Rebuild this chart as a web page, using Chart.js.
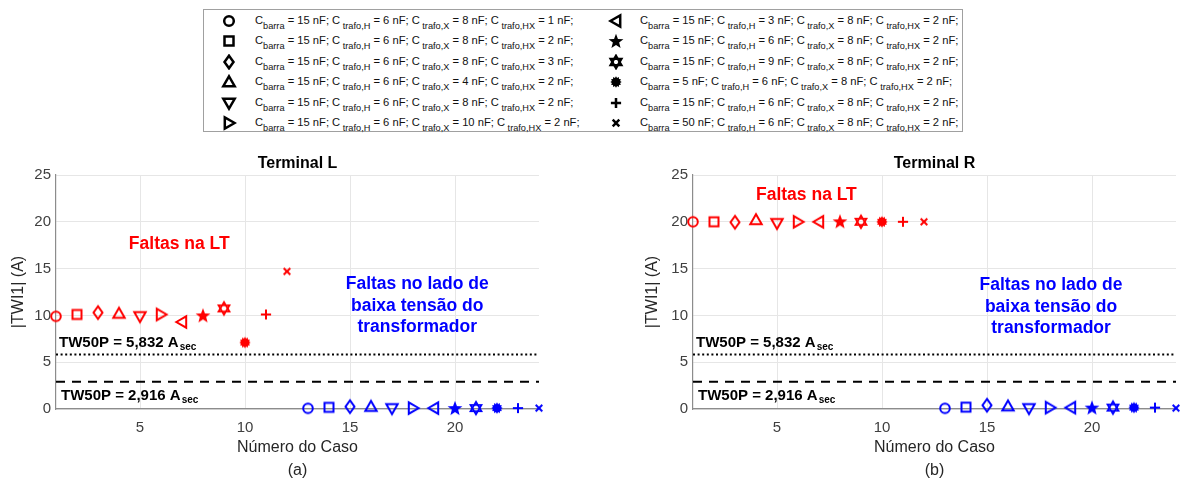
<!DOCTYPE html>
<html>
<head>
<meta charset="utf-8">
<script src="https://cdn.jsdelivr.net/npm/chart.js@4.4.0/dist/chart.umd.min.js"></script>
<style>
  body { margin: 0; background: #fff; width: 1181px; height: 481px; position: relative; overflow: hidden; font-family: "Liberation Sans", Arial, sans-serif; }
  #legenda { position: absolute; left: 203px; top: 9px; width: 758px; height: 121px; border: 1px solid #a0a0a0; background: #fff; }
  .item { position: absolute; height: 20px; font-size: 11.2px; color: #111; white-space: nowrap; line-height: 20px; }
  .item canvas { position: absolute; left: 0; top: 2px; }
  .item span.txt { position: absolute; top: -1px; }
  .item sub { font-size: 9.2px; vertical-align: -5px; line-height: 0; }
  #wrapL { position: absolute; left: 0; top: 150px; }
  #wrapR { position: absolute; left: 620px; top: 150px; }
</style>
</head>
<body>
<div id="legenda"></div>
<div id="wrapL"><canvas id="chartL" width="545" height="331"></canvas></div>
<div id="wrapR"><canvas id="chartR" width="561" height="331"></canvas></div>
<script>
// casos simulados
const casosLT = [1, 2, 3, 4, 5, 6, 7, 8, 9, 10, 11, 12];
const casosBT = [13, 14, 15, 16, 17, 18, 19, 20, 21, 22, 23, 24];

// um simbolo por configuracao de capacitancias
const simbolos = ['circle', 'square', 'diamond', 'triUp', 'triDown', 'triRight',
                  'triLeft', 'star', 'hexagram', 'sun', 'plus', 'cross'];

// capacitancias (nF) da legenda
const cBarra   = [15, 15, 15, 15, 15, 15, 15, 15, 15, 5, 15, 50];
const cTrafoH  = [6, 6, 6, 6, 6, 6, 3, 6, 9, 6, 6, 6];
const cTrafoX  = [8, 8, 8, 4, 8, 10, 8, 8, 8, 8, 8, 8];
const cTrafoHX = [1, 2, 3, 2, 2, 2, 2, 2, 2, 2, 2, 2];

// |TWI1| (A) - terminal L
const twiL_LT = [9.9, 10.1, 10.3, 10.2, 9.9, 10.1, 9.3, 10.0, 10.75, 7.1, 10.1, 14.7];
const twiL_BT = [0.07, 0.18, 0.25, 0.25, 0.07, 0.1, 0.1, 0.1, 0.1, 0.1, 0.1, 0.1];

// |TWI1| (A) - terminal R
const twiR_LT = [20.0, 20.0, 19.95, 20.2, 19.85, 20.0, 20.0, 20.05, 20.0, 20.0, 20.0, 20.0];
const twiR_BT = [0.07, 0.2, 0.4, 0.3, 0.07, 0.15, 0.15, 0.15, 0.15, 0.15, 0.15, 0.1];

// ajustes TW50P (A sec)
const tw50pAlto = 5.832;
const tw50pBaixo = 2.916;

const yTicks = [0, 5, 10, 15, 20, 25];
const xTicks = [5, 10, 15, 20];

const vermelho = '#ff0000';
const azul = '#0000ff';
const FONTE = '"Liberation Sans", Arial, sans-serif';

// desenha um marcador no contexto
function drawMarker(ctx, shape, cx, cy, r, color, lw) {
    ctx.save();
    ctx.strokeStyle = color;
    ctx.fillStyle = color;
    ctx.lineWidth = lw;
    ctx.lineJoin = 'miter';
    const poly = (pts, fill) => {
        ctx.beginPath();
        pts.forEach((p, i) => i ? ctx.lineTo(cx + p[0], cy + p[1]) : ctx.moveTo(cx + p[0], cy + p[1]));
        ctx.closePath();
        fill ? ctx.fill() : ctx.stroke();
    };
    if (shape === 'circle') {
        ctx.beginPath(); ctx.arc(cx, cy, r * 0.8, 0, Math.PI * 2); ctx.stroke();
    } else if (shape === 'square') {
        ctx.strokeRect(cx - r * 0.75, cy - r * 0.75, r * 1.5, r * 1.5);
    } else if (shape === 'diamond') {
        poly([[0, -r * 1.05], [r * 0.75, 0], [0, r * 1.05], [-r * 0.75, 0]]);
    } else if (shape === 'triUp') {
        poly([[0, -r * 0.95], [r * 0.95, r * 0.7], [-r * 0.95, r * 0.7]]);
    } else if (shape === 'triDown') {
        poly([[0, r * 0.95], [r * 0.95, -r * 0.7], [-r * 0.95, -r * 0.7]]);
    } else if (shape === 'triRight') {
        poly([[r * 0.95, 0], [-r * 0.7, -r * 0.95], [-r * 0.7, r * 0.95]]);
    } else if (shape === 'triLeft') {
        poly([[-r * 0.95, 0], [r * 0.7, -r * 0.95], [r * 0.7, r * 0.95]]);
    } else if (shape === 'star') {
        const pts = [];
        for (let i = 0; i < 10; i++) {
            const a = -Math.PI / 2 + i * Math.PI / 5;
            const rr = i % 2 ? r * 0.55 : r * 1.3;
            pts.push([Math.cos(a) * rr, Math.sin(a) * rr + r * 0.1]);
        }
        poly(pts, true);
    } else if (shape === 'hexagram') {
        const t1 = [], t2 = [];
        for (let i = 0; i < 3; i++) {
            const a = -Math.PI / 2 + i * 2 * Math.PI / 3;
            t1.push([Math.cos(a) * r * 1.05, Math.sin(a) * r * 1.05]);
            t2.push([Math.cos(a + Math.PI) * r * 1.05, Math.sin(a + Math.PI) * r * 1.05]);
        }
        ctx.lineWidth = lw * 0.9;
        poly(t1); poly(t2);
    } else if (shape === 'sun') {
        const pts = [];
        for (let i = 0; i < 24; i++) {
            const a = i * Math.PI / 12;
            const rr = i % 2 ? r * 0.7 : r * 0.95;
            pts.push([Math.cos(a) * rr, Math.sin(a) * rr]);
        }
        poly(pts, true);
    } else if (shape === 'plus') {
        ctx.beginPath();
        ctx.moveTo(cx - r * 0.85, cy); ctx.lineTo(cx + r * 0.85, cy);
        ctx.moveTo(cx, cy - r * 0.85); ctx.lineTo(cx, cy + r * 0.85);
        ctx.stroke();
    } else if (shape === 'cross') {
        ctx.beginPath();
        ctx.moveTo(cx - r * 0.55, cy - r * 0.55); ctx.lineTo(cx + r * 0.55, cy + r * 0.55);
        ctx.moveTo(cx + r * 0.55, cy - r * 0.55); ctx.lineTo(cx - r * 0.55, cy + r * 0.55);
        ctx.stroke();
    }
    ctx.restore();
}

function makeMarker(shape, color, size, r, lw) {
    const c = document.createElement('canvas');
    c.width = size; c.height = size;
    drawMarker(c.getContext('2d'), shape, size / 2, size / 2, r, color, lw);
    return c;
}

// legenda em HTML
const legenda = document.getElementById('legenda');
simbolos.forEach((s, i) => {
    const col = i < 6 ? 0 : 1;
    const row = i % 6;
    const div = document.createElement('div');
    div.className = 'item';
    div.style.left = (col === 0 ? 17 : 404) + 'px';
    div.style.top = (1 + row * 20.4) + 'px';
    div.appendChild(makeMarker(s, '#000', 16, 6, 2.5));
    const txt = document.createElement('span');
    txt.className = 'txt';
    txt.style.left = (col === 0 ? 34 : 32) + 'px';
    txt.innerHTML = 'C<sub>barra</sub> = ' + cBarra[i] + ' nF; C<sub> trafo,H</sub> = ' + cTrafoH[i] +
        ' nF; C<sub> trafo,X</sub> = ' + cTrafoX[i] + ' nF; C<sub> trafo,HX</sub> = ' + cTrafoHX[i] + ' nF;';
    div.appendChild(txt);
    legenda.appendChild(div);
});

// textos desenhados sobre o grafico
const notasPlugin = {
    id: 'notas',
    afterDatasetsDraw(chart, args, opts) {
        const ctx = chart.ctx;
        const xs = chart.scales.x, ys = chart.scales.y;
        const area = chart.chartArea;
        const cxa = (area.left + area.right) / 2;
        ctx.save();
        ctx.textBaseline = 'middle';
        ctx.textAlign = 'center';
        // titulo
        ctx.fillStyle = '#000';
        ctx.font = 'bold 16px ' + FONTE;
        ctx.fillText(opts.titulo, cxa, area.top - 11);
        // eixo x
        ctx.fillStyle = '#262626';
        ctx.font = '16px ' + FONTE;
        ctx.fillText('Número do Caso', cxa, area.bottom + 39);
        ctx.fillText(opts.letra, cxa, area.bottom + 62);
        // eixo y
        ctx.save();
        ctx.translate(opts.yTituloX, (area.top + area.bottom) / 2);
        ctx.rotate(-Math.PI / 2);
        ctx.fillText('|TWI1| (A)', 0, 0);
        ctx.restore();
        // blocos de texto
        opts.textos.forEach(t => {
            ctx.fillStyle = t.cor;
            ctx.font = 'bold 17.5px ' + FONTE;
            t.linhas.forEach((l, k) => {
                ctx.fillText(l, xs.getPixelForValue(t.x), ys.getPixelForValue(t.y) + k * 21.5);
            });
        });
        // rotulos TW50P
        ctx.textAlign = 'left';
        ctx.fillStyle = '#000';
        opts.rotulos.forEach(r => {
            const px = area.left + r.dx;
            const py = ys.getPixelForValue(r.valor) + r.dy;
            ctx.font = 'bold 15px ' + FONTE;
            const base = 'TW50P = ' + r.valor.toFixed(3).replace('.', ',') + ' A';
            ctx.fillText(base, px, py);
            const w = ctx.measureText(base).width;
            ctx.font = 'bold 10px ' + FONTE;
            ctx.fillText('sec', px + w + 1, py + 5);
        });
        ctx.restore();
    }
};

function buildChart(id, valsLT, valsBT, cfg) {
    const ctx = document.getElementById(id).getContext('2d');
    const x0 = casosLT[0], x1 = casosBT[casosBT.length - 1];
    return new Chart(ctx, {
        type: 'scatter',
        data: {
            datasets: [
                {
                    data: casosLT.map((c, i) => ({ x: c, y: valsLT[i] })),
                    pointStyle: simbolos.map(s => makeMarker(s, vermelho, 20, 6, 2)),
                    clip: false
                },
                {
                    data: casosBT.map((c, i) => ({ x: c, y: valsBT[i] })),
                    pointStyle: simbolos.map(s => makeMarker(s, azul, 20, 6, 2)),
                    clip: false
                },
                {
                    data: [{ x: x0, y: tw50pAlto }, { x: x1, y: tw50pAlto }],
                    showLine: true, borderColor: '#000', borderWidth: 2,
                    borderDash: [2, 2.6], pointRadius: 0
                },
                {
                    data: [{ x: x0, y: tw50pBaixo }, { x: x1, y: tw50pBaixo }],
                    showLine: true, borderColor: '#000', borderWidth: 2,
                    borderDash: [9, 7], pointRadius: 0
                }
            ]
        },
        options: {
            responsive: false,
            animation: false,
            layout: { padding: { top: 25, right: cfg.padRight, left: 0, bottom: 0 } },
            plugins: {
                legend: { display: false },
                tooltip: { enabled: false },
                notas: cfg.notas
            },
            scales: {
                x: {
                    type: 'linear', min: x0, max: x1,
                    afterBuildTicks: axis => { axis.ticks = xTicks.map(v => ({ value: v })); },
                    afterFit: axis => { axis.height = 72; },
                    grid: { color: '#e6e6e6', drawTicks: false },
                    border: { color: '#8c8c8c', width: 1.2 },
                    ticks: { padding: 10, color: '#404040', font: { family: FONTE, size: 15 } }
                },
                y: {
                    min: 0, max: 25,
                    afterBuildTicks: axis => { axis.ticks = yTicks.map(v => ({ value: v })); },
                    afterFit: axis => { axis.width = cfg.yWidth; },
                    grid: { color: '#e6e6e6', drawTicks: false },
                    border: { color: '#8c8c8c', width: 1.2 },
                    ticks: { padding: 5, color: '#404040', font: { family: FONTE, size: 15 } }
                }
            }
        },
        plugins: [notasPlugin]
    });
}

buildChart('chartL', twiL_LT, twiL_BT, {
    padRight: 6, yWidth: 56,
    notas: {
        titulo: 'Terminal L', letra: '(a)', yTituloX: 19,
        textos: [
            { cor: vermelho, x: 6.87, y: 17.6, linhas: ['Faltas na LT'] },
            { cor: azul, x: 18.2, y: 13.3, linhas: ['Faltas no lado de', 'baixa tensão do', 'transformador'] }
        ],
        rotulos: [
            { valor: tw50pAlto, dx: 3, dy: -12 },
            { valor: tw50pBaixo, dx: 5, dy: 14 }
        ]
    }
});

buildChart('chartR', twiR_LT, twiR_BT, {
    padRight: 3, yWidth: 73,
    notas: {
        titulo: 'Terminal R', letra: '(b)', yTituloX: 33,
        textos: [
            { cor: vermelho, x: 6.4, y: 22.8, linhas: ['Faltas na LT'] },
            { cor: azul, x: 18.05, y: 13.2, linhas: ['Faltas no lado de', 'baixa tensão do', 'transformador'] }
        ],
        rotulos: [
            { valor: tw50pAlto, dx: 3, dy: -12 },
            { valor: tw50pBaixo, dx: 5, dy: 14 }
        ]
    }
});
</script>
</body>
</html>
